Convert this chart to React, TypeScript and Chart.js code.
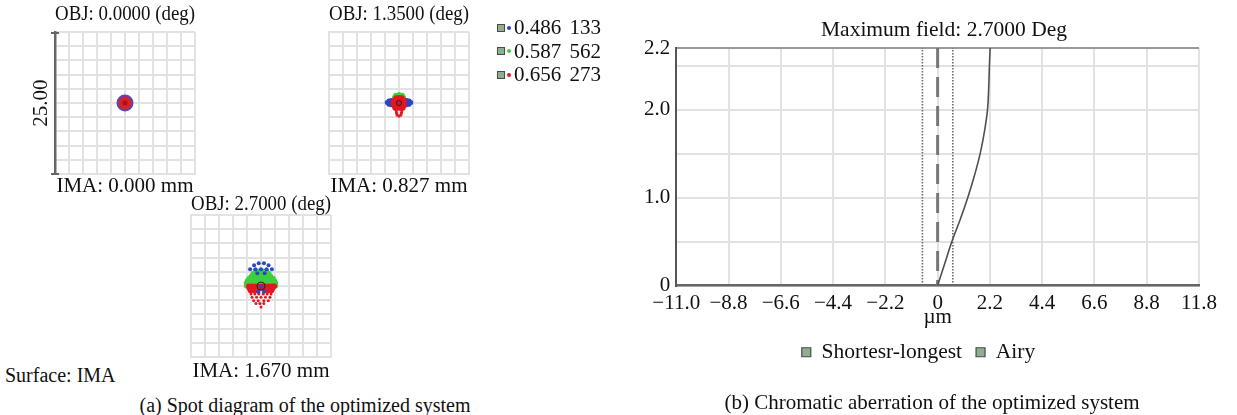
import React, { useEffect, useRef } from 'react';
import { Chart, registerables } from 'chart.js';

Chart.register(...registerables);

const FONT = "'Liberation Serif', 'Times New Roman', serif";
const TEXT = '#111';
const GRID = '#e2e2e2';

// ---------- Spot diagrams (a) ----------
const SPOT_TICKS = [-12.5, -10, -7.5, -5, -2.5, 0, 2.5, 5, 7.5, 10, 12.5];
const WAVELENGTHS = ['0.486 133', '0.587 562', '0.656 273'];
const WL_COLORS = ['#2a45c8', '#3dcf3d', '#e3161f'];
const FIELD_TITLES = ['OBJ: 0.0000 (deg)', 'OBJ: 1.3500 (deg)', 'OBJ: 2.7000 (deg)'];
const IMA_LABELS = ['IMA: 0.000 mm', 'IMA: 0.827 mm', 'IMA: 1.670 mm'];
const SCALE_LABEL = '25.00';

// field 0.0000 deg (µm)
const SPOT1_BLUE = [[0, 0]];
const SPOT1_RED = [[0, 0]];
const SPOT1_CORE = [[0, 0]];

// field 1.3500 deg (µm)
const SPOT2_BLUE = [
  [-2.1, 0.1], [-1.8, 0.35], [-1.8, -0.2], [-1.4, 0.45], [-1.4, -0.3], [-1.0, 0.5], [-1.0, -0.35],
  [1.0, 0.5], [1.0, -0.35], [1.4, 0.45], [1.4, -0.3], [1.8, 0.35], [1.8, -0.2], [2.1, 0.1],
];
const SPOT2_GREEN = [
  [-0.6, 1.35], [0, 1.5], [0.6, 1.35], [-0.8, 1.0], [-0.25, 1.1], [0.25, 1.1], [0.8, 1.0], [0, 0.8],
];
const SPOT2_RED = [
  [-0.5, 0.85], [0, 0.9], [0.5, 0.85],
  [-0.9, 0.45], [-0.3, 0.5], [0.3, 0.5], [0.9, 0.45],
  [-1.0, 0.05], [-0.4, 0.05], [0.2, 0.05], [0.8, 0.05],
  [-0.9, -0.4], [-0.3, -0.4], [0.3, -0.4], [0.9, -0.4],
  [-0.7, -0.85], [0, -0.85], [0.7, -0.85],
];
const SPOT2_RED_TAIL = [
  [-0.5, -1.3], [0.5, -1.3],
  [-0.45, -1.7], [0.45, -1.7],
  [-0.35, -2.1], [0.35, -2.1], [0, -2.3],
];

// field 2.7000 deg (µm)
const SPOT3_BLUE = [
  [-1.23, 3.64], [-0.41, 4.0], [0.53, 4.0], [1.35, 3.64],
  [-1.94, 2.93], [-1.0, 2.93], [0, 2.93], [1.0, 2.93], [1.94, 2.93],
  [-0.65, 2.23], [0.65, 2.23],
  [-0.47, -1.0], [0.53, -1.0], [0, -0.1],
];
const SPOT3_GREEN = [
  [-0.9, 2.5], [-0.3, 2.5], [0.3, 2.5], [0.9, 2.5],
  [-1.3, 2.1], [-0.7, 2.1], [0, 2.1], [0.7, 2.1], [1.3, 2.1],
  [-1.6, 1.7], [-1.0, 1.7], [-0.4, 1.7], [0.4, 1.7], [1.0, 1.7], [1.6, 1.7],
  [-2.0, 1.3], [-1.3, 1.3], [-0.6, 1.3], [0, 1.3], [0.6, 1.3], [1.3, 1.3], [2.0, 1.3],
  [-2.3, 0.9], [-1.6, 0.9], [-0.9, 0.9], [-0.3, 0.9], [0.3, 0.9], [0.9, 0.9], [1.6, 0.9], [2.3, 0.9],
  [-2.5, 0.5], [-1.8, 0.5], [-1.1, 0.5], [-0.4, 0.5], [0.4, 0.5], [1.1, 0.5], [1.8, 0.5], [2.5, 0.5],
  [-2.5, 0.1], [-1.8, 0.1], [-1.1, 0.1], [-0.4, 0.1], [0.4, 0.1], [1.1, 0.1], [1.8, 0.1], [2.5, 0.1],
];
const SPOT3_RED = [
  [-2.2, 0.0], [-1.6, 0.0], [-1.0, 0.0], [-0.4, 0.0], [0.2, 0.0], [0.8, 0.0], [1.4, 0.0], [2.0, 0.0], [2.4, 0.0],
  [-2.1, -0.4], [-1.5, -0.4], [-0.9, -0.4], [-0.3, -0.4], [0.3, -0.4], [0.9, -0.4], [1.5, -0.4], [2.1, -0.4],
  [-1.9, -0.8], [-1.3, -0.8], [-0.7, -0.8], [0.7, -0.8], [1.3, -0.8], [1.9, -0.8],
];
const SPOT3_RED_TAIL = [
  [-1.8, -1.4], [-1.1, -1.4], [-0.4, -1.4], [0.4, -1.4], [1.1, -1.4], [1.8, -1.4],
  [-1.6, -2.0], [-0.8, -2.0], [0, -2.0], [0.8, -2.0], [1.6, -2.0],
  [-1.3, -2.6], [-0.5, -2.6], [0.5, -2.6], [1.3, -2.6],
  [-0.9, -3.1], [-0.2, -3.1], [0.5, -3.1],
  [0, -3.7],
];
const SPOT_CENTER = [[0, 0]];

// ---------- Chromatic focal shift (b) ----------
const FIELD = [0, 0.25, 0.5, 0.75, 1.0, 1.25, 1.5, 1.75, 2.0, 2.25, 2.5, 2.7];
const FOCAL_SHIFT = [0, 0.3, 0.6, 0.95, 1.27, 1.55, 1.79, 1.97, 2.1, 2.15, 2.18, 2.21];
const FIELD_MAX = 2.7;
const AIRY_RADIUS = 0.64;
const X_TICKS = [-11, -8.8, -6.6, -4.4, -2.2, 0, 2.2, 4.4, 6.6, 8.8, 11];
const X_TICK_LABELS = ['\u221211.0', '\u22128.8', '\u22126.6', '\u22124.4', '\u22122.2', '0', '2.2', '4.4', '6.6', '8.8', '11.8'];
const Y_TICKS = [0, 0.5, 1.0, 1.5, 2.0, 2.5, 2.7];
const Y_TICK_LABELS = ['0', '', '1.0', '', '2.0', '', '2.2'];

const toXY = (arr: number[][]) => arr.map(([x, y]) => ({ x, y }));

function pts(data: number[][], color: string, radius: number, extra: any = {}) {
  return {
    data: toXY(data),
    backgroundColor: color,
    borderColor: color,
    borderWidth: 0,
    pointRadius: radius,
    ...extra,
  };
}

function centerRing(radius: number) {
  return pts(SPOT_CENTER, 'rgba(0,0,0,0)', radius, { borderColor: '#222', borderWidth: 1 });
}

function spotConfig(p: any) {
  const titleFont = { family: FONT, size: 21, weight: 'normal', lineHeight: 1 };
  const axis = (isY: boolean) => ({
    type: 'linear',
    min: -12.5,
    max: 12.5,
    afterBuildTicks: (s: any) => {
      s.ticks = SPOT_TICKS.map((v) => ({ value: v }));
    },
    ticks: { display: false },
    grid: { color: GRID, lineWidth: 2, drawTicks: false },
    border: isY && p.scaleBar ? { color: '#666', width: 2.5 } : { color: GRID, width: 2 },
    title: isY
      ? { display: false }
      : { display: true, text: p.ima, color: TEXT, font: titleFont, padding: { top: p.imaPad, bottom: 0 } },
  });
  return {
    type: 'scatter',
    data: { datasets: p.sets },
    options: {
      animation: false,
      responsive: false,
      maintainAspectRatio: false,
      events: [],
      layout: { padding: { left: 55, right: 55, top: 0, bottom: 0 } },
      plugins: {
        legend: { display: false },
        tooltip: { enabled: false },
        title: {
          display: true,
          text: p.title,
          color: TEXT,
          font: titleFont,
          padding: { top: p.titlePadTop, bottom: p.titlePadBottom },
        },
      },
      scales: { x: axis(false), y: axis(true) },
    },
  };
}

// Draws the chart title and caption at the horizontal position they have in the figure
// (the original places them slightly right of the canvas centre).
const offsetTextPlugin = {
  id: 'offsetText',
  afterDraw(chart: any, _args: any, opts: any) {
    const { ctx } = chart;
    ctx.save();
    ctx.fillStyle = TEXT;
    ctx.textAlign = 'center';
    ctx.textBaseline = 'middle';
    (opts.items || []).forEach((it: any) => {
      ctx.font = `normal ${it.size}px ${FONT}`;
      ctx.fillText(it.text, it.cx - chart.canvas.offsetLeft, it.cy);
    });
    ctx.restore();
  },
};

function aberrationConfig() {
  const f = (size: number) => ({ family: FONT, size, weight: 'normal', lineHeight: 1 });
  return {
    type: 'scatter',
    plugins: [offsetTextPlugin],
    data: {
      datasets: [
        {
          label: 'Shortesr-longest',
          data: FOCAL_SHIFT.map((x, i) => ({ x, y: FIELD[i] })),
          showLine: true,
          borderColor: '#505050',
          borderWidth: 1.6,
          pointRadius: 0,
          tension: 0.4,
        },
        {
          label: 'Airy',
          data: [{ x: -AIRY_RADIUS, y: 0 }, { x: -AIRY_RADIUS, y: FIELD_MAX }],
          showLine: true,
          borderColor: '#6a6a6a',
          borderWidth: 1.6,
          borderDash: [1.5, 1.5],
          pointRadius: 0,
        },
        {
          label: 'Airy (+)',
          data: [{ x: AIRY_RADIUS, y: 0 }, { x: AIRY_RADIUS, y: FIELD_MAX }],
          showLine: true,
          borderColor: '#6a6a6a',
          borderWidth: 1.6,
          borderDash: [1.5, 1.5],
          pointRadius: 0,
        },
        {
          label: 'Reference',
          data: [{ x: 0, y: FIELD_MAX }, { x: 0, y: 0 }],
          showLine: true,
          borderColor: '#777',
          borderWidth: 3,
          borderDash: [20, 9],
          pointRadius: 0,
        },
      ],
    },
    options: {
      animation: false,
      responsive: false,
      maintainAspectRatio: false,
      events: [],
      layout: { padding: { left: 0, right: 38, top: 48, bottom: 42 } },
      plugins: {
        tooltip: { enabled: false },
        title: { display: false },
        offsetText: {
          items: [
            { text: 'Maximum field: 2.7000 Deg', size: 21.5, cx: 944, cy: 30 },
            { text: '(b) Chromatic aberration of the optimized system', size: 21, cx: 932, cy: 403 },
          ],
        },
        legend: {
          display: true,
          position: 'bottom',
          labels: {
            color: TEXT,
            font: f(21.5),
            padding: 14,
            boxWidth: 9,
            boxHeight: 9,
            filter: (item: any) => item.datasetIndex === 0 || item.datasetIndex === 1,
            generateLabels: (chart: any) =>
              chart.data.datasets.map((ds: any, i: number) => ({
                text: ds.label,
                fillStyle: '#8fae8f',
                strokeStyle: '#4a4a4a',
                lineWidth: 1.2,
                fontColor: TEXT,
                hidden: false,
                datasetIndex: i,
              })),
          },
        },
      },
      scales: {
        x: {
          type: 'linear',
          min: -11,
          max: 11,
          afterBuildTicks: (s: any) => {
            s.ticks = X_TICKS.map((v) => ({ value: v }));
          },
          ticks: {
            autoSkip: false,
            maxRotation: 0,
            color: TEXT,
            font: f(21),
            padding: 7,
            callback: (_v: any, i: number) => X_TICK_LABELS[i],
          },
          grid: { color: GRID, lineWidth: 2, drawTicks: false },
          border: { color: '#666', width: 2.5 },
          title: { display: true, text: '\u00b5m', color: TEXT, font: f(21), padding: { top: -14, bottom: 0 } },
        },
        y: {
          type: 'linear',
          min: 0,
          max: FIELD_MAX,
          afterBuildTicks: (s: any) => {
            s.ticks = Y_TICKS.map((v) => ({ value: v }));
          },
          ticks: {
            autoSkip: false,
            color: TEXT,
            font: f(21),
            padding: 6,
            callback: (_v: any, i: number) => Y_TICK_LABELS[i],
          },
          grid: {
            color: (ctx: any) => (ctx.tick && ctx.tick.value === FIELD_MAX ? '#9a9a9a' : GRID),
            lineWidth: 2,
            drawTicks: false,
          },
          border: { color: '#555', width: 2 },
        },
      },
    },
  };
}

export default function App() {
  const c1 = useRef<HTMLCanvasElement>(null);
  const c2 = useRef<HTMLCanvasElement>(null);
  const c3 = useRef<HTMLCanvasElement>(null);
  const c4 = useRef<HTMLCanvasElement>(null);

  useEffect(() => {
    const charts: Chart[] = [];
    charts.push(
      new Chart(
        c1.current!,
        spotConfig({
          title: FIELD_TITLES[0],
          ima: IMA_LABELS[0],
          scaleBar: true,
          titlePadTop: 4,
          titlePadBottom: 7,
          imaPad: 2,
          sets: [
            pts(SPOT1_CORE, '#a8101c', 2.5),
            pts(SPOT1_RED, '#d8202a', 6.5),
            pts(SPOT1_BLUE, '#5a46b4', 8.5),
          ],
        }) as any
      )
    );
    charts.push(
      new Chart(
        c2.current!,
        spotConfig({
          title: FIELD_TITLES[1],
          ima: IMA_LABELS[1],
          titlePadTop: 4,
          titlePadBottom: 7,
          imaPad: 2,
          sets: [
            centerRing(2.5),
            pts(SPOT2_RED, WL_COLORS[2], 2.8),
            pts(SPOT2_RED_TAIL, WL_COLORS[2], 1.6),
            pts(SPOT2_GREEN, WL_COLORS[1], 2.5),
            pts(SPOT2_BLUE, WL_COLORS[0], 2.5),
          ],
        }) as any
      )
    );
    charts.push(
      new Chart(
        c3.current!,
        spotConfig({
          title: FIELD_TITLES[2],
          ima: IMA_LABELS[2],
          titlePadTop: 11,
          titlePadBottom: 0,
          imaPad: 4,
          sets: [
            centerRing(4),
            pts(SPOT3_BLUE, WL_COLORS[0], 2.0),
            pts(SPOT3_RED, WL_COLORS[2], 2.6),
            pts(SPOT3_RED_TAIL, WL_COLORS[2], 1.5),
            pts(SPOT3_GREEN, WL_COLORS[1], 3.2),
          ],
        }) as any
      )
    );
    charts.push(new Chart(c4.current!, aberrationConfig() as any));
    return () => charts.forEach((c) => c.destroy());
  }, []);

  const abs = (left: number, top: number, w: number, h: number): React.CSSProperties => ({
    position: 'absolute',
    left,
    top,
    width: w,
    height: h,
  });

  return (
    <div
      style={{
        position: 'fixed',
        left: 0,
        top: 0,
        width: 1237,
        height: 415,
        background: '#fff',
        fontFamily: FONT,
        color: TEXT,
        overflow: 'hidden',
      }}
    >
      <canvas ref={c1} width={250} height={197} style={abs(0, 0, 250, 197)} />
      <canvas ref={c2} width={250} height={197} style={abs(274, 0, 250, 197)} />
      <canvas ref={c3} width={250} height={199} style={abs(136, 183, 250, 199)} />
      <canvas ref={c4} width={599} height={415} style={abs(638, 0, 599, 415)} />

      <div
        style={{
          position: 'absolute',
          left: 10,
          top: 92,
          width: 60,
          height: 22,
          fontSize: 21,
          lineHeight: '22px',
          textAlign: 'center',
          transform: 'rotate(-90deg)',
          whiteSpace: 'nowrap',
        }}
      >
        {SCALE_LABEL}
      </div>
      <div style={{ position: 'absolute', left: 51, top: 32, width: 8, height: 2, background: '#666' }} />
      <div style={{ position: 'absolute', left: 51, top: 173, width: 8, height: 2, background: '#666' }} />

      <div style={{ position: 'absolute', left: 497, top: 16, fontSize: 21, lineHeight: '23.5px' }}>
        {WAVELENGTHS.map((w, i) => (
          <div key={w} style={{ display: 'flex', alignItems: 'center', whiteSpace: 'nowrap', wordSpacing: 3 }}>
            <span
              style={{
                display: 'inline-block',
                width: 6,
                height: 6,
                border: '1px solid #4a4a4a',
                background: '#8fae8f',
              }}
            />
            <span
              style={{
                display: 'inline-block',
                width: 4,
                height: 4,
                borderRadius: 2,
                background: WL_COLORS[i],
                marginLeft: 2,
                marginRight: 3,
              }}
            />
            <span>{w}</span>
          </div>
        ))}
      </div>

      <div style={{ position: 'absolute', left: 5, top: 364, fontSize: 20, lineHeight: '22px', whiteSpace: 'nowrap' }}>
        Surface: IMA
      </div>
      <div
        style={{
          position: 'absolute',
          left: 105,
          width: 400,
          top: 394,
          fontSize: 20,
          lineHeight: '22px',
          textAlign: 'center',
          whiteSpace: 'nowrap',
        }}
      >
        (a) Spot diagram of the optimized system
      </div>
    </div>
  );
}
